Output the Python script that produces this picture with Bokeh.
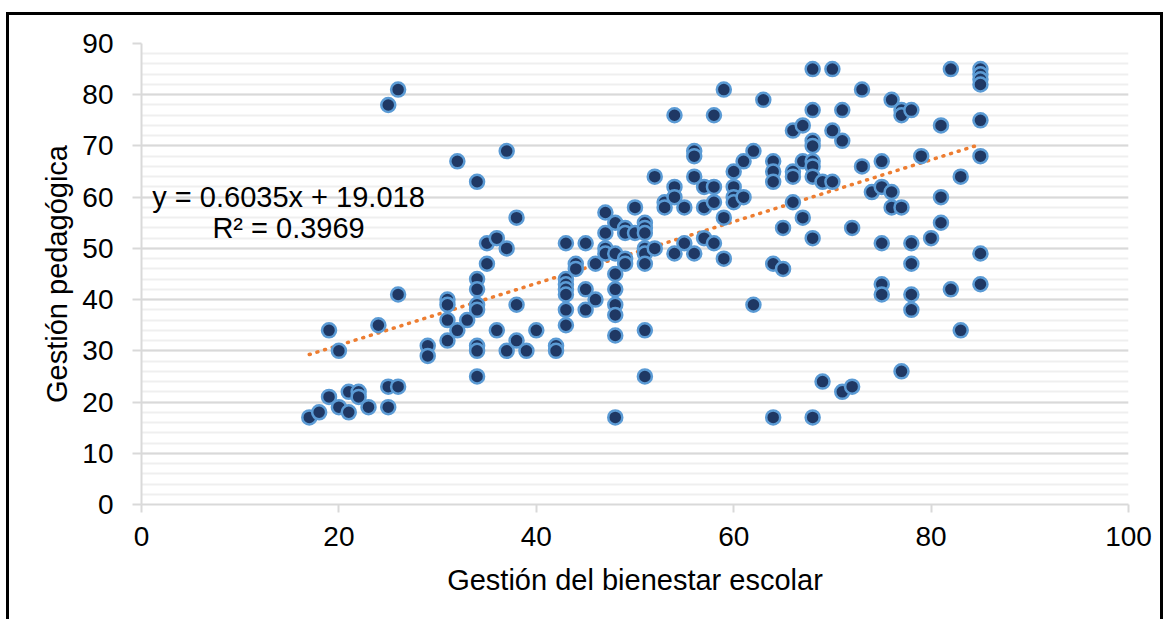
from bokeh.plotting import figure
from bokeh.models import Range1d, SingleIntervalTicker, Label
from bokeh.embed import file_html
from bokeh.resources import INLINE

# ---- data ----
gestion_bienestar = [
    17, 18, 19, 19, 20, 20, 21, 21, 22, 22, 23, 24, 25, 25, 25, 26, 26, 26,
    29, 29, 31, 31, 31, 31, 32, 32, 33,
    34, 34, 34, 34, 34, 34, 34, 34, 35, 35, 36, 36, 37, 37, 37, 38, 38, 38,
    39, 40, 42, 42, 43, 43, 43, 43, 43, 43, 43, 44, 44, 45, 45, 45, 46, 46,
    47, 47, 47, 47, 48, 48, 48, 48, 48, 48, 48, 48, 49, 49, 49, 49, 50, 50,
    51, 51, 51, 51, 51, 51, 51, 51, 52, 52, 53, 53, 54, 54, 54, 54, 55, 55,
    56, 56, 56, 56, 57, 57, 57, 58, 58, 58, 58, 59, 59, 59, 60, 60, 60, 60,
    61, 61, 62, 62, 63, 64, 64, 64, 64, 64, 65, 65, 66, 66, 66, 66, 67, 67, 67,
    68, 68, 68, 68, 68, 68, 68, 68, 68, 69, 69, 70, 70, 70, 71, 71, 71, 72, 72,
    73, 73, 74, 75, 75, 75, 75, 75, 76, 76, 76, 77, 77, 77, 77,
    78, 78, 78, 78, 78, 79, 80, 81, 81, 81, 82, 82, 83, 83,
    85, 85, 85, 85, 85, 85, 85, 85,
]
gestion_pedagogica = [
    17, 18, 34, 21, 30, 19, 22, 18, 22, 21, 19, 35, 78, 23, 19, 81, 41, 23,
    31, 29, 40, 39, 36, 32, 67, 34, 36,
    63, 44, 42, 39, 38, 31, 30, 25, 51, 47, 52, 34, 69, 50, 30, 56, 39, 32,
    30, 34, 31, 30, 51, 44, 43, 42, 41, 38, 35, 47, 46, 51, 42, 38, 47, 40,
    57, 53, 50, 49, 55, 49, 45, 42, 39, 37, 33, 17, 54, 53, 48, 47, 58, 53,
    55, 54, 53, 50, 49, 47, 34, 25, 64, 50, 59, 58, 76, 62, 60, 49, 58, 51,
    69, 68, 64, 49, 62, 58, 52, 76, 62, 59, 51, 81, 56, 48, 65, 62, 60, 59,
    67, 60, 69, 39, 79, 67, 65, 63, 47, 17, 54, 46, 73, 65, 64, 59, 74, 67, 56,
    85, 77, 71, 70, 67, 66, 64, 52, 17, 63, 24, 85, 73, 63, 77, 71, 22, 54, 23,
    81, 66, 61, 67, 62, 51, 43, 41, 79, 61, 58, 77, 76, 58, 26,
    77, 51, 47, 41, 38, 68, 52, 74, 60, 55, 85, 42, 64, 34,
    85, 84, 83, 82, 75, 68, 49, 43,
]
trend_slope = 0.6035
trend_intercept = 19.018
equation_text = "y = 0.6035x + 19.018"
r2_text = "R² = 0.3969"
x_title = "Gestión del bienestar escolar"
y_title = "Gestión pedagógica"

FONT = "Liberation Sans"

p = figure(width=1157, height=607,
           x_range=Range1d(0, 100), y_range=Range1d(0, 90),
           output_backend="svg", toolbar_location=None,
           min_border_left=132, min_border_right=38,
           min_border_top=28, min_border_bottom=118)
p.styles = {"border-left": "3px solid black", "border-top": "3px solid black",
            "border-right": "3px solid black",
            "margin-top": "12px", "margin-left": "6px"}
p.outline_line_color = None
p.background_fill_color = "white"
p.border_fill_color = "white"

# grids
p.xgrid.grid_line_color = None
p.ygrid.grid_line_color = "#d9d9d9"
p.ygrid.grid_line_width = 2
p.ygrid.minor_grid_line_color = "#efefef"
p.ygrid.minor_grid_line_width = 2

# axes
p.xaxis.ticker = SingleIntervalTicker(interval=20, num_minor_ticks=0)
p.yaxis.ticker = SingleIntervalTicker(interval=10, num_minor_ticks=5)
p.ygrid.ticker = p.yaxis.ticker
for ax in (p.xaxis, p.yaxis):
    ax.axis_line_color = "#d9d9d9"
    ax.axis_line_width = 2
    ax.major_tick_line_color = "#d9d9d9"
    ax.major_tick_line_width = 2
    ax.major_tick_in = 0
    ax.minor_tick_line_color = None
    ax.major_label_text_font = FONT
    ax.major_label_text_font_size = "28px"
    ax.major_label_text_color = "black"
    ax.axis_label_text_font = FONT
    ax.axis_label_text_font_size = "29px"
    ax.axis_label_text_font_style = "normal"
    ax.axis_label_text_color = "black"
p.xaxis.major_tick_out = 8
p.yaxis.major_tick_out = 9
p.xaxis.major_label_standoff = 14
p.yaxis.major_label_standoff = 19
p.xaxis.axis_label = x_title
p.yaxis.axis_label = y_title
p.xaxis.axis_label_standoff = 15
p.yaxis.axis_label_standoff = 6

# trendline
x0, x1 = min(gestion_bienestar), max(gestion_bienestar)
p.line([x0, x1], [trend_slope * x0 + trend_intercept, trend_slope * x1 + trend_intercept],
       line_color="#ed7d31", line_width=3.5, line_dash="1 7", line_cap="round")

# points
p.scatter(gestion_bienestar, gestion_pedagogica, size=14, marker="circle",
          fill_color="#1f3864", line_color="#5b9bd5", line_width=2.5)

# equation labels
p.add_layout(Label(x=14.9, y=60.1, text=equation_text, text_align="center",
                   text_baseline="middle", text_font=FONT, text_font_size="29px",
                   text_color="black"))
p.add_layout(Label(x=14.9, y=53.9, text=r2_text, text_align="center",
                   text_baseline="middle", text_font=FONT, text_font_size="29px",
                   text_color="black"))

open("out.html", "w").write(file_html(p, INLINE))
